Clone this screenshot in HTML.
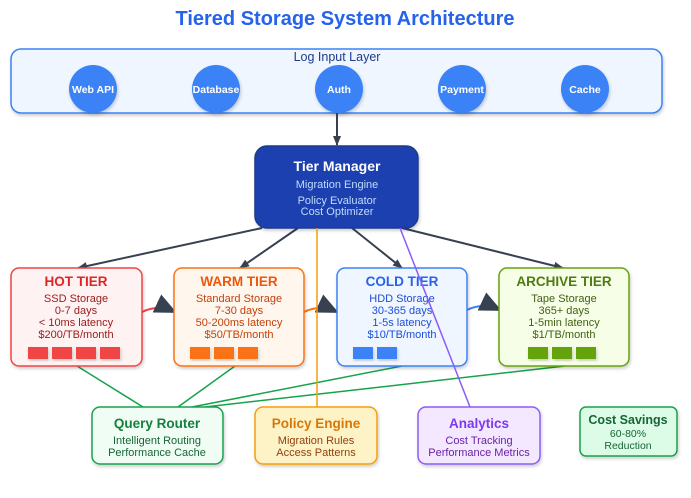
<!DOCTYPE html>
<html><head><style>
body{margin:0;background:#fff;}
svg text{font-family:"Liberation Sans",sans-serif;}
</style></head><body>
<svg width="691" height="493" viewBox="0 0 691 493" xmlns="http://www.w3.org/2000/svg">
<defs>
<marker id="ar" markerWidth="10" markerHeight="8" refX="9" refY="4" orient="auto" markerUnits="userSpaceOnUse"><path d="M0,0 L10,4 L0,8 Z" fill="#374151"/></marker>
<marker id="big" markerWidth="22" markerHeight="20" refX="20" refY="10" orient="auto" markerUnits="userSpaceOnUse"><path d="M0,0 L22,10 L0,20 Z" fill="#374151"/></marker>
<filter id="sh" x="-10%" y="-10%" width="120%" height="130%"><feDropShadow dx="1" dy="2" stdDeviation="1.5" flood-opacity="0.2"/></filter>
</defs>
<text x="345" y="25" text-anchor="middle" font-size="20" font-weight="bold" fill="#2563eb">Tiered Storage System Architecture</text>

<rect x="11" y="49" width="651" height="64" rx="10" fill="#eff6ff" stroke="#3b82f6" stroke-width="1.5" filter="url(#sh)"/>
<text x="337" y="61" text-anchor="middle" font-size="12.5" fill="#1e3a8a">Log Input Layer</text>
<g fill="#3b82f6" filter="url(#sh)">
<ellipse cx="93" cy="89" rx="24" ry="24"/><ellipse cx="216" cy="89" rx="24" ry="24"/><ellipse cx="339" cy="89" rx="24" ry="24"/><ellipse cx="462" cy="89" rx="24" ry="24"/><ellipse cx="585" cy="89" rx="24" ry="24"/></g>
<g font-size="10.5" font-weight="bold" fill="#fff" text-anchor="middle">
<text x="93" y="93">Web API</text><text x="216" y="93">Database</text><text x="339" y="93">Auth</text><text x="462" y="93">Payment</text><text x="585" y="93">Cache</text></g>

<line x1="337" y1="113" x2="337" y2="145" stroke="#374151" stroke-width="2" marker-end="url(#ar)"/>

<g stroke="#374151" stroke-width="2" fill="none">
<line x1="262" y1="228" x2="78" y2="268" marker-end="url(#ar)"/>
<line x1="298" y1="228" x2="240" y2="268" marker-end="url(#ar)"/>
<line x1="352" y1="228" x2="402" y2="268" marker-end="url(#ar)"/>
<line x1="402" y1="228" x2="563" y2="268" marker-end="url(#ar)"/>
</g>
<path d="M142,312 Q158,304 175,312" stroke="#ef4444" stroke-width="2" fill="none" marker-end="url(#big)"/>
<path d="M304,312 Q320,304 337,312" stroke="#f97316" stroke-width="2" fill="none" marker-end="url(#big)"/>
<path d="M467,310 Q483,302 500,310" stroke="#3b82f6" stroke-width="2" fill="none" marker-end="url(#big)"/>
<g stroke="#16a34a" stroke-width="1.5">
<line x1="77" y1="366" x2="143" y2="407"/><line x1="235" y1="366" x2="178" y2="407"/>
<line x1="402" y1="366" x2="192" y2="407"/><line x1="565" y1="366" x2="205" y2="407"/></g>

<rect x="255" y="146" width="163" height="82" rx="12" fill="#1e40af" stroke="#1e3a8a" stroke-width="1.5" filter="url(#sh)"/>
<text x="337" y="171" text-anchor="middle" font-size="14" font-weight="bold" fill="#fff">Tier Manager</text>
<g font-size="11" fill="#bfdbfe" text-anchor="middle"><text x="337" y="188">Migration Engine</text><text x="337" y="204">Policy Evaluator</text><text x="337" y="215">Cost Optimizer</text></g>

<g filter="url(#sh)" stroke-width="1.5">
<rect x="11" y="268" width="131" height="98" rx="8" fill="#fef2f2" stroke="#ef4444"/>
<rect x="174" y="268" width="130" height="98" rx="8" fill="#fff7ed" stroke="#f97316"/>
<rect x="337" y="268" width="130" height="98" rx="8" fill="#eff6ff" stroke="#3b82f6"/>
<rect x="499" y="268" width="130" height="98" rx="8" fill="#f7fee7" stroke="#65a30d"/>
</g>
<g text-anchor="middle" font-size="13.5" font-weight="bold">
<text x="76" y="286" fill="#dc2626">HOT TIER</text><text x="239" y="286" fill="#ea580c">WARM TIER</text>
<text x="402" y="286" fill="#2563eb">COLD TIER</text><text x="564" y="286" fill="#4d7c0f">ARCHIVE TIER</text></g>
<g text-anchor="middle" font-size="11">
<g fill="#991b1b"><text x="76" y="302">SSD Storage</text><text x="76" y="314">0-7 days</text><text x="76" y="326">&lt; 10ms latency</text><text x="76" y="338">$200/TB/month</text></g>
<g fill="#c2410c"><text x="239" y="302">Standard Storage</text><text x="239" y="314">7-30 days</text><text x="239" y="326">50-200ms latency</text><text x="239" y="338">$50/TB/month</text></g>
<g fill="#1d4ed8"><text x="402" y="302">HDD Storage</text><text x="402" y="314">30-365 days</text><text x="402" y="326">1-5s latency</text><text x="402" y="338">$10/TB/month</text></g>
<g fill="#3f6212"><text x="564" y="302">Tape Storage</text><text x="564" y="314">365+ days</text><text x="564" y="326">1-5min latency</text><text x="564" y="338">$1/TB/month</text></g>
</g>
<g filter="url(#sh)">
<g fill="#ef4444"><rect x="28" y="347" width="20" height="12"/><rect x="52" y="347" width="20" height="12"/><rect x="76" y="347" width="20" height="12"/><rect x="100" y="347" width="20" height="12"/></g>
<g fill="#f97316"><rect x="190" y="347" width="20" height="12"/><rect x="214" y="347" width="20" height="12"/><rect x="238" y="347" width="20" height="12"/></g>
<g fill="#3b82f6"><rect x="353" y="347" width="20" height="12"/><rect x="377" y="347" width="20" height="12"/></g>
<g fill="#65a30d"><rect x="528" y="347" width="20" height="12"/><rect x="552" y="347" width="20" height="12"/><rect x="576" y="347" width="20" height="12"/></g>
</g>

<line x1="317" y1="228" x2="317" y2="407" stroke="#f59e0b" stroke-width="1.5"/>
<line x1="400" y1="228" x2="470" y2="407" stroke="#8b5cf6" stroke-width="1.5"/>

<g filter="url(#sh)" stroke-width="1.5">
<rect x="92" y="407" width="131" height="57" rx="8" fill="#f0fdf4" stroke="#16a34a"/>
<rect x="255" y="407" width="122" height="57" rx="8" fill="#fef3c7" stroke="#f59e0b"/>
<rect x="418" y="407" width="122" height="57" rx="8" fill="#f3e8ff" stroke="#8b5cf6"/>
<rect x="580" y="407" width="97" height="49" rx="6" fill="#dcfce7" stroke="#16a34a"/>
</g>
<g text-anchor="middle">
<text x="157" y="428" font-size="13.5" font-weight="bold" fill="#15803d">Query Router</text>
<text x="157" y="444" font-size="11" fill="#166534">Intelligent Routing</text><text x="157" y="456" font-size="11" fill="#166534">Performance Cache</text>
<text x="316" y="428" font-size="13.5" font-weight="bold" fill="#d97706">Policy Engine</text>
<text x="316" y="444" font-size="11" fill="#92400e">Migration Rules</text><text x="316" y="456" font-size="11" fill="#92400e">Access Patterns</text>
<text x="479" y="428" font-size="13.5" font-weight="bold" fill="#7c3aed">Analytics</text>
<text x="479" y="444" font-size="11" fill="#6b21a8">Cost Tracking</text><text x="479" y="456" font-size="11" fill="#6b21a8">Performance Metrics</text>
<text x="628" y="424" font-size="12.5" font-weight="bold" fill="#166534">Cost Savings</text>
<text x="628" y="437" font-size="10.5" fill="#166534">60-80%</text><text x="628" y="449" font-size="10.5" fill="#166534">Reduction</text>
</g>
</svg>
</body></html>
